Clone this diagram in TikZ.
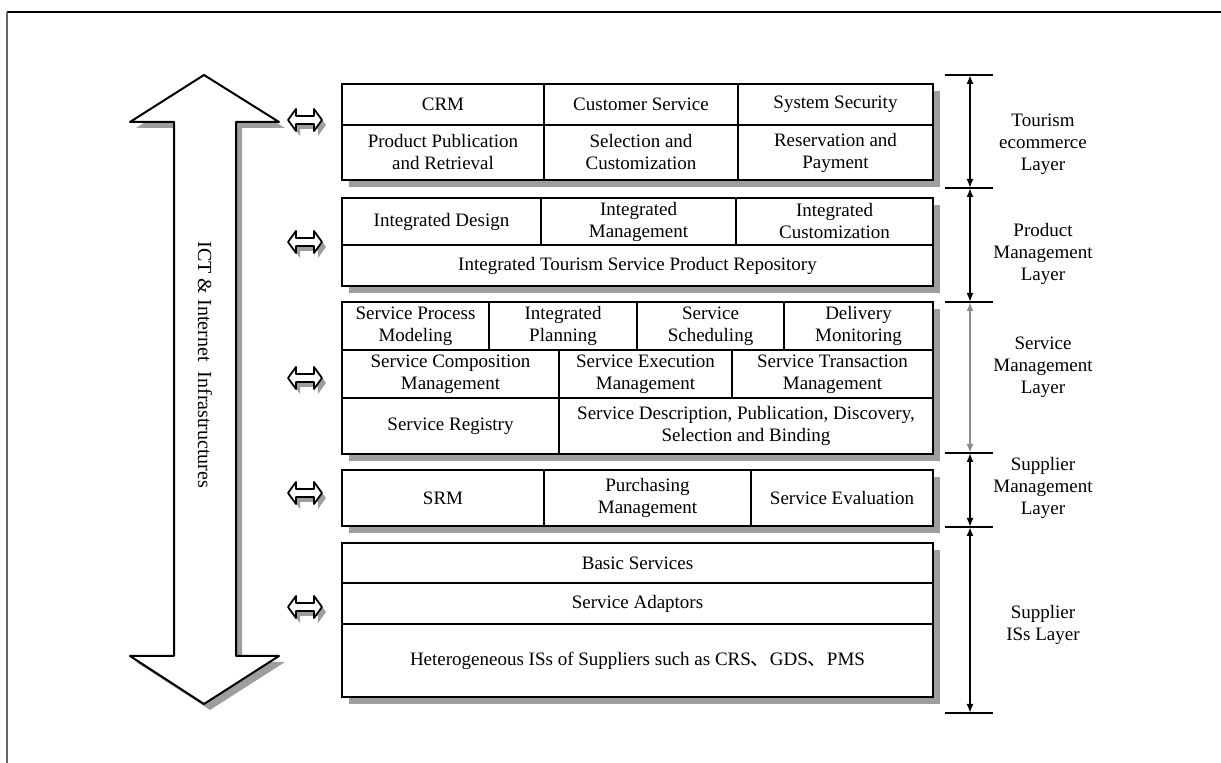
\documentclass[tikz,border=0pt]{standalone}
\usepackage{fontspec}
\setmainfont{Liberation Serif}
\newfontfamily\cjk{Noto Sans CJK SC}
\usetikzlibrary{arrows.meta}

% outer box of a layer with its drop shadow: x1, y1, x2, y2
\newcommand\layerbox[4]{%
  \fill[shadowfill] (#1+7,#2+7) rectangle (#3+7,#4+7);
  \draw[layerframe] (#1,#2) rectangle (#3,#4);
}

\begin{document}
\begin{tikzpicture}[x=0.5pt,y=-0.5pt,
  lbl/.style={font=\fontsize{9.5}{11}\selectfont, align=center, inner sep=0pt},
  shadowfill/.style={fill=black!38, draw=none},
  layerframe/.style={draw=black, line width=1.2pt, fill=white},
  sep/.style={draw=black, line width=1pt},
  arrline/.style={draw=black, fill=white, line width=0.9pt, line join=round},
  span/.style={line width=0.9pt, {Latex[length=4.5pt,width=3.5pt]}-{Latex[length=4.5pt,width=3.5pt]}},
  tickline/.style={line width=1pt},
  dblarr/.pic={
    \foreach \dx/\dy/\st in {4/5/shadowfill, 0/0/arrline} {
      \path[\st, shift={(\dx,\dy)}] (-17,0) -- (-9,-11) -- (-9,-4) -- (9,-4) -- (9,-11)
        -- (17,0) -- (9,11) -- (9,4) -- (-9,4) -- (-9,11) -- cycle;
    }
  }]
\useasboundingbox (0,0) rectangle (1221,763);

% page frame
\draw[line width=1pt] (7,12) -- (1221,12);
\draw[line width=1pt, black!60] (7,12) -- (7,763);

% big vertical double arrow
\fill[shadowfill, shift={(6,6)}] (204,75) -- (279,122) -- (236,122) -- (236,656) -- (279,656)
  -- (204,704) -- (130,656) -- (174,656) -- (174,122) -- (130,122) -- cycle;
\draw[arrline, line width=1pt] (204,75) -- (279,122) -- (236,122) -- (236,656) -- (279,656)
  -- (204,704) -- (130,656) -- (174,656) -- (174,122) -- (130,122) -- cycle;
\node[lbl, rotate=-90, font=\fontsize{10}{12}\selectfont] (ict) at (205,365)
  {ICT \& Internet\ \ Infrastructures};

% small double arrows
\pic at (305,120) {dblarr};
\pic at (305,242) {dblarr};
\pic at (305,378) {dblarr};
\pic at (305,493) {dblarr};
\pic at (305,607) {dblarr};

% Tourism ecommerce layer
\layerbox{342}{84}{933}{180}
\draw[sep] (342,125) -- (933,125);
\draw[sep] (544,84) -- (544,180);
\draw[sep] (738,84) -- (738,180);
\node[lbl] (crm) at (443,104.5) {CRM};
\node[lbl] (cs) at (641,104.5) {Customer Service};
\node[lbl] (ss) at (835.5,104.5) {System Security};
\node[lbl] (ppr) at (443,152.5) {Product Publication\\and Retrieval};
\node[lbl] (sc) at (641,152.5) {Selection and\\Customization};
\node[lbl] (rp) at (835.5,152.5) {Reservation and\\Payment};

% Product management layer
\layerbox{342}{198}{933}{286}
\draw[sep] (342,245) -- (933,245);
\draw[sep] (541,198) -- (541,245);
\draw[sep] (736,198) -- (736,245);
\node[lbl] (idg) at (441.5,221.5) {Integrated Design};
\node[lbl] (img) at (638.5,221.5) {Integrated\\Management};
\node[lbl] (icu) at (834.5,221.5) {Integrated\\Customization};
\node[lbl] (repo) at (637.5,265.5) {Integrated Tourism Service Product Repository};

% Service management layer
\layerbox{342}{302}{933}{454}
\draw[sep] (342,350) -- (933,350);
\draw[sep] (342,398) -- (933,398);
\draw[sep] (489,302) -- (489,350);
\draw[sep] (637,302) -- (637,350);
\draw[sep] (784,302) -- (784,350);
\draw[sep] (559,350) -- (559,454);
\draw[sep] (732,350) -- (732,398);
\node[lbl] (spm) at (415.5,326) {Service Process\\Modeling};
\node[lbl] (ipl) at (563,326) {Integrated\\Planning};
\node[lbl] (ssch) at (710.5,326) {Service\\Scheduling};
\node[lbl] (dmon) at (858.5,326) {Delivery\\Monitoring};
\node[lbl] (scm) at (450.5,374) {Service Composition\\Management};
\node[lbl] (sem) at (645.5,374) {Service Execution\\Management};
\node[lbl] (stm) at (832.5,374) {Service Transaction\\Management};
\node[lbl] (sreg) at (450.5,426) {Service Registry};
\node[lbl] (sdesc) at (746,426) {Service Description, Publication, Discovery,\\Selection and Binding};

% Supplier management layer
\layerbox{342}{470}{933}{526}
\draw[sep] (544,470) -- (544,526);
\draw[sep] (751,470) -- (751,526);
\node[lbl] (srm) at (443,498) {SRM};
\node[lbl] (pm) at (647.5,498) {Purchasing\\Management};
\node[lbl] (sev) at (842,498) {Service Evaluation};

% Supplier ISs layer
\layerbox{342}{543}{933}{697}
\draw[sep] (342,583) -- (933,583);
\draw[sep] (342,624) -- (933,624);
\node[lbl] (bs) at (637.5,563) {Basic Services};
\node[lbl] (sa) at (637.5,603.5) {Service Adaptors};
\node[lbl] (his) at (637.5,660.5) {Heterogeneous ISs of Suppliers such as CRS{\cjk 、}GDS{\cjk 、}PMS};

% layer scale on the right
\coordinate (s0) at (970,75);
\coordinate (s1) at (970,188);
\coordinate (s2) at (970,302);
\coordinate (s3) at (970,453);
\coordinate (s4) at (970,527);
\coordinate (s5) at (970,713);
\foreach \s in {s0,s1,s2,s3,s4,s5} {
  \draw[tickline] (\s) ++(-25,0) -- ++(48,0);
}
\draw[span] (s0) -- (s1);
\draw[span] (s1) -- (s2);
\draw[span, black!45] (s2) -- (s3);
\draw[span] (s3) -- (s4);
\draw[span] (s4) -- (s5);

\node[lbl] (l1) at (1043,144) {Tourism\\ecommerce\\Layer};
\node[lbl] (l2) at (1043,254) {Product\\Management\\Layer};
\node[lbl] (l3) at (1043,367) {Service\\Management\\Layer};
\node[lbl] (l4) at (1043,488) {Supplier\\Management\\Layer};
\node[lbl] (l5) at (1043,625) {Supplier\\ISs Layer};
\end{tikzpicture}
\end{document}
